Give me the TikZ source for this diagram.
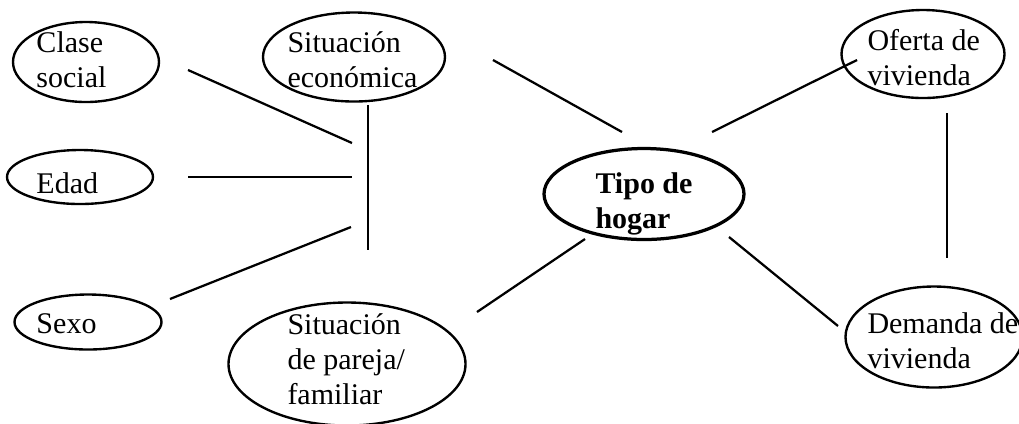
\documentclass[tikz,border=0pt]{standalone}
\usepackage{fontspec}
\setmainfont{Liberation Serif}
\usetikzlibrary{shapes.geometric, positioning}

\begin{document}
\begin{tikzpicture}[x=0.4pt, y=-0.4pt, oval/.style={draw, ellipse, line width=0.95pt, inner sep=0pt}, txt/.style={anchor=base west, inner sep=0pt, align=left, font=\fontsize{12}{14}\selectfont}, link/.style={draw, line width=0.9pt}]
		\useasboundingbox (0,0) rectangle (1019,423);
		\node[oval, minimum width=58.4pt, minimum height=32pt] (clase) at (86,62) {};
		\node[oval, minimum width=72.8pt, minimum height=35.6pt] (econ) at (354,57) {};
		\node[oval, minimum width=58.4pt, minimum height=21.6pt] (edad) at (80,177) {};
		\node[oval, minimum width=58.8pt, minimum height=22pt] (sexo) at (88,322) {};
		\node[oval, minimum width=94.8pt, minimum height=49.2pt] (pareja) at (347,364) {};
		\node[oval, line width=1.3pt, minimum width=80pt, minimum height=36.4pt] (tipo) at (644,194) {};
		\node[oval, minimum width=65.2pt, minimum height=35.2pt] (oferta) at (923,54) {};
		\node[oval, minimum width=70.8pt, minimum height=40.4pt] (demanda) at (934,337) {};
		\node[txt] (claseT) at (36,87) {Clase\\social};
		\node[txt] (econT) at (287,87) {Situación\\económica};
		\node[txt] (edadT) at (36,193) {Edad};
		\node[txt] (sexoT) at (36,333) {Sexo};
		\node[txt] (parejaT) at (287,404) {Situación\\de pareja/\\familiar};
		\node[txt, font=\fontsize{12}{14}\selectfont\bfseries] (tipoT) at (595,228) {Tipo de\\hogar};
		\node[txt] (ofertaT) at (867,85) {Oferta de\\vivienda};
		\node[txt] (demandaT) at (867,368) {Demanda de\\vivienda};
		\coordinate (C1) at (188,70);
		\coordinate (C2) at (352,143);
		\coordinate (E1) at (188,177);
		\coordinate (E2) at (352,177);
		\coordinate (S1) at (170,299);
		\coordinate (S2) at (351,227);
		\coordinate (V1) at (368,105);
		\coordinate (V2) at (368,250);
		\coordinate (T1) at (493,60);
		\coordinate (T2) at (622,132);
		\coordinate (T3) at (712,132);
		\coordinate (T4) at (857,60);
		\coordinate (T5) at (729,237);
		\coordinate (T6) at (838,326);
		\coordinate (T7) at (585,239);
		\coordinate (T8) at (477,312);
		\coordinate (W1) at (947,113);
		\coordinate (W2) at (947,258);
		\path[link] (C1) -- (C2);
		\path[link] (E1) -- (E2);
		\path[link] (S1) -- (S2);
		\path[link] (V1) -- (V2);
		\path[link] (T1) -- (T2);
		\path[link] (T3) -- (T4);
		\path[link] (T5) -- (T6);
		\path[link] (T7) -- (T8);
		\path[link] (W1) -- (W2);
	\end{tikzpicture}
\end{document}
